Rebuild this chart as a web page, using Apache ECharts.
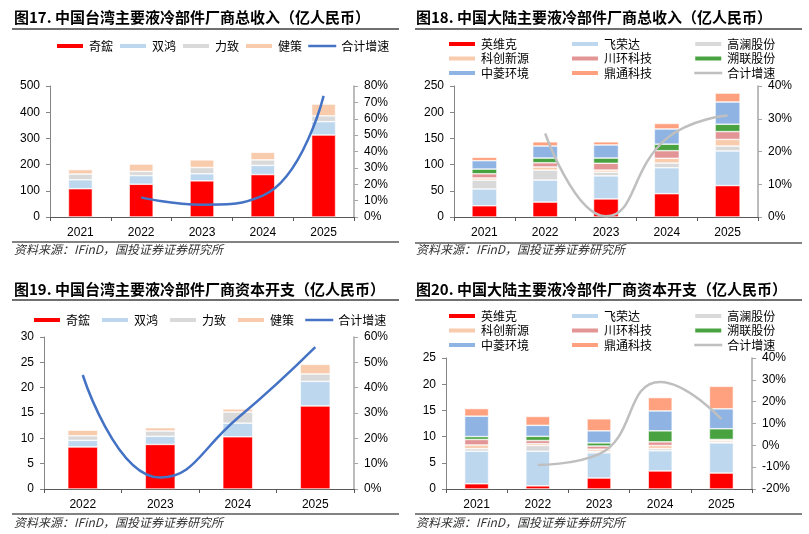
<!DOCTYPE html>
<html>
<head>
<meta charset="utf-8">
<script src="https://cdn.jsdelivr.net/npm/echarts@6/dist/echarts.min.js"></script>
<style>
  body { margin: 0; background: #fff; }
  .panel { position: absolute; }
</style>
</head>
<body>
<div id="c17" class="panel" style="left:0;top:0;width:405px;height:267px"></div>
<div id="c18" class="panel" style="left:405px;top:0;width:404px;height:267px"></div>
<div id="c19" class="panel" style="left:0;top:267px;width:405px;height:267px"></div>
<div id="c20" class="panel" style="left:405px;top:267px;width:404px;height:267px"></div>
<script>
// 年份
const years5 = ['2021', '2022', '2023', '2024', '2025']
const years4 = ['2022', '2023', '2024', '2025']

// 图17 中国台湾 总收入（亿人民币）
const twRevQihong = [108, 125, 138, 162, 313]
const twRevShuanghong = [34, 33, 27, 35, 51]
const twRevLizhi = [22, 16, 24, 21, 22]
const twRevJiance = [17, 28, 29, 29, 45]
const twRevGrowth = [null, 12, 7.5, 13, 74]

// 图18 中国大陆 总收入
const cnRevYwk = [21.5, 28.5, 34.5, 44.5, 60]
const cnRevFrd = [32, 42, 44, 49.5, 66]
const cnRevGl = [17, 19, 7, 9, 9.5]
const cnRevKcxy = [4, 6, 4, 9, 12.5]
const cnRevChkj = [8, 8, 13, 14.5, 15]
const cnRevSl = [9, 9, 10, 12.5, 14]
const cnRevZl = [16, 23, 25, 29, 42.5]
const cnRevDt = [6.5, 8, 6, 10.5, 17]
const cnRevGrowth = [null, 25.5, 0.2, 24, 31]

// 图19 中国台湾 资本开支
const twCapexQihong = [8.3, 8.8, 10.3, 16.4]
const twCapexShuanghong = [1.3, 1.6, 2.7, 4.85]
const twCapexLizhi = [0.9, 1.05, 2.2, 1.45]
const twCapexJiance = [1.1, 0.65, 0.6, 1.9]
const twCapexGrowth = [45, 4.5, 28, 56]

// 图20 中国大陆 资本开支
const cnCapexYwk = [1.0, 0.6, 2.1, 3.45, 3.05]
const cnCapexFrd = [6.2, 6.6, 4.8, 3.85, 5.75]
const cnCapexGl = [0.5, 1.1, 0.3, 0.4, 0.15]
const cnCapexKcxy = [0.7, 0.35, 0.4, 0.6, 0.35]
const cnCapexChkj = [1.05, 0.6, 0.6, 0.7, 0.15]
const cnCapexSl = [0.55, 0.8, 0.6, 2.1, 2.05]
const cnCapexZl = [3.9, 2.1, 2.3, 3.8, 3.8]
const cnCapexDt = [1.45, 1.7, 2.3, 2.55, 4.3]
const cnCapexGrowth = [null, -9, -4, 29, 12]

const SOURCE = '资料来源：IFinD，国投证券证券研究所'
const CJK = '"Noto Sans CJK SC", sans-serif'
const NUM = '"Liberation Sans", Arial, sans-serif'

const colors = {
  red: '#FF0000', ltBlue: '#BDD7EE', gray: '#D9D9D9', peach: '#F8CBAD',
  pink: '#E39494', green: '#47A23F', blue: '#8FB4E3', salmon: '#FFA17F',
  lineBlue: '#4472C4', lineGray: '#BFBFBF'
}

function barSeries(name, data, color, width) {
  return {
    name: name, type: 'bar', stack: 'total', barWidth: width, data: data,
    itemStyle: { color: color, borderColor: '#fff', borderWidth: 0.6 }
  }
}

function lineSeries(name, data, color) {
  return {
    name: name, type: 'line', yAxisIndex: 1, smooth: true, symbol: 'none',
    data: data, z: 5,
    lineStyle: { color: color, width: 2.5 },
    itemStyle: { color: color }
  }
}

// 柱子用方块图例，折线只画线，不要中间的圆点
function legendItems(names) {
  return names.map(n => n === '合计增速'
    ? { name: n, itemStyle: { opacity: 0 }, lineStyle: { width: 2.5 } }
    : { name: n, icon: 'rect' })
}

function buildOption(cfg) {
  const legendBase = {
    itemWidth: 28, itemHeight: 6, padding: 0,
    textStyle: { fontFamily: CJK, fontSize: 12, color: '#000' }
  }
  let legends = []
  if (cfg.legendCols) {
    cfg.legendCols.forEach((col, i) => {
      legends.push(Object.assign({}, legendBase, {
        orient: 'vertical', left: cfg.legendLeft[i], top: cfg.legendTop,
        itemGap: 2.5, data: legendItems(col)
      }))
    })
  } else {
    legends.push(Object.assign({}, legendBase, {
      left: cfg.legendLeft, top: cfg.legendTop, itemGap: cfg.legendGap,
      data: legendItems(cfg.legendData)
    }))
  }
  const axisLbl = { color: '#000', fontSize: 12, fontFamily: NUM, margin: 10 }
  return {
    animation: false,
    title: [
      { text: cfg.title, left: cfg.titleLeft, top: cfg.titleTop, padding: 0,
        textStyle: { fontFamily: CJK, fontSize: 15, fontWeight: 'bold', color: '#000' } },
      { text: SOURCE, left: cfg.titleLeft, top: cfg.sourceTop, padding: 0,
        textStyle: { fontFamily: CJK, fontSize: 12, fontStyle: 'italic', fontWeight: 'normal', color: '#333' } }
    ],
    graphic: [
      { type: 'line', shape: { x1: cfg.lineX[0], y1: cfg.topLineY, x2: cfg.lineX[1], y2: cfg.topLineY },
        style: { stroke: '#404040', lineWidth: 1.5 } },
      { type: 'line', shape: { x1: cfg.lineX[0], y1: cfg.bottomLineY, x2: cfg.lineX[1], y2: cfg.bottomLineY },
        style: { stroke: '#595959', lineWidth: 1.5 } }
    ],
    legend: legends,
    grid: cfg.grid,
    xAxis: {
      type: 'category', data: cfg.categories,
      axisLine: { lineStyle: { color: '#595959', width: 1 } },
      axisTick: { show: true, length: 4, lineStyle: { color: '#595959' } },
      axisLabel: axisLbl
    },
    yAxis: [
      { type: 'value', min: cfg.left[0], max: cfg.left[1], interval: cfg.left[2],
        splitLine: { show: false },
        axisLine: { show: true, lineStyle: { color: '#868686', width: 1 } },
        axisTick: { show: true, length: 4, lineStyle: { color: '#868686' } },
        axisLabel: axisLbl },
      { type: 'value', position: 'right', min: cfg.right[0], max: cfg.right[1], interval: cfg.right[2],
        splitLine: { show: false },
        axisLine: { show: true, lineStyle: { color: '#A6A6A6', width: 1.5 } },
        axisTick: { show: true, length: 4, lineStyle: { color: '#A6A6A6' } },
        axisLabel: Object.assign({}, axisLbl, { formatter: '{value}%' }) }
    ],
    series: cfg.series
  }
}

// 图17
const opt17 = buildOption({
  title: '图17. 中国台湾主要液冷部件厂商总收入（亿人民币）',
  titleLeft: 14, titleTop: 10, sourceTop: 243,
  lineX: [12, 399], topLineY: 29, bottomLineY: 242,
  legendLeft: 55, legendTop: 40, legendGap: 5,
  legendData: ['奇鋐', '双鸿', '力致', '健策', '合计增速'],
  grid: { left: 50, right: 51, top: 86, bottom: 50 },
  categories: years5,
  left: [0, 500, 100], right: [0, 80, 10],
  series: [
    barSeries('奇鋐', twRevQihong, colors.red, 24),
    barSeries('双鸿', twRevShuanghong, colors.ltBlue, 24),
    barSeries('力致', twRevLizhi, colors.gray, 24),
    barSeries('健策', twRevJiance, colors.peach, 24),
    lineSeries('合计增速', twRevGrowth, colors.lineBlue)
  ]
})

// 图18
const opt18 = buildOption({
  title: '图18. 中国大陆主要液冷部件厂商总收入（亿人民币）',
  titleLeft: 11, titleTop: 10, sourceTop: 243,
  lineX: [10, 397], topLineY: 29, bottomLineY: 243,
  legendLeft: [42, 165, 288], legendTop: 38,
  legendCols: [['英维克', '科创新源', '中菱环境'], ['飞荣达', '川环科技', '鼎通科技'], ['高澜股份', '溯联股份', '合计增速']],
  grid: { left: 49, right: 51, top: 86, bottom: 50 },
  categories: years5,
  left: [0, 250, 50], right: [0, 40, 10],
  series: [
    barSeries('英维克', cnRevYwk, colors.red, 25),
    barSeries('飞荣达', cnRevFrd, colors.ltBlue, 25),
    barSeries('高澜股份', cnRevGl, colors.gray, 25),
    barSeries('科创新源', cnRevKcxy, colors.peach, 25),
    barSeries('川环科技', cnRevChkj, colors.pink, 25),
    barSeries('溯联股份', cnRevSl, colors.green, 25),
    barSeries('中菱环境', cnRevZl, colors.blue, 25),
    barSeries('鼎通科技', cnRevDt, colors.salmon, 25),
    lineSeries('合计增速', cnRevGrowth, colors.lineGray)
  ]
})

// 图19
const opt19 = buildOption({
  title: '图19. 中国台湾主要液冷部件厂商资本开支（亿人民币）',
  titleLeft: 14, titleTop: 15, sourceTop: 249,
  lineX: [12, 399], topLineY: 33, bottomLineY: 247,
  legendLeft: 32, legendTop: 47, legendGap: 10,
  legendData: ['奇鋐', '双鸿', '力致', '健策', '合计增速'],
  grid: { left: 44, right: 51, top: 70, bottom: 45 },
  categories: years4,
  left: [0, 30, 5], right: [0, 60, 10],
  series: [
    barSeries('奇鋐', twCapexQihong, colors.red, 30),
    barSeries('双鸿', twCapexShuanghong, colors.ltBlue, 30),
    barSeries('力致', twCapexLizhi, colors.gray, 30),
    barSeries('健策', twCapexJiance, colors.peach, 30),
    lineSeries('合计增速', twCapexGrowth, colors.lineBlue)
  ]
})

// 图20
const opt20 = buildOption({
  title: '图20. 中国大陆主要液冷部件厂商资本开支（亿人民币）',
  titleLeft: 11, titleTop: 15, sourceTop: 249,
  lineX: [10, 397], topLineY: 33, bottomLineY: 247,
  legendLeft: [42, 165, 288], legendTop: 43,
  legendCols: [['英维克', '科创新源', '中菱环境'], ['飞荣达', '川环科技', '鼎通科技'], ['高澜股份', '溯联股份', '合计增速']],
  grid: { left: 41, right: 57, top: 91, bottom: 45 },
  categories: years5,
  left: [0, 25, 5], right: [-20, 40, 10],
  series: [
    barSeries('英维克', cnCapexYwk, colors.red, 24),
    barSeries('飞荣达', cnCapexFrd, colors.ltBlue, 24),
    barSeries('高澜股份', cnCapexGl, colors.gray, 24),
    barSeries('科创新源', cnCapexKcxy, colors.peach, 24),
    barSeries('川环科技', cnCapexChkj, colors.pink, 24),
    barSeries('溯联股份', cnCapexSl, colors.green, 24),
    barSeries('中菱环境', cnCapexZl, colors.blue, 24),
    barSeries('鼎通科技', cnCapexDt, colors.salmon, 24),
    lineSeries('合计增速', cnCapexGrowth, colors.lineGray)
  ]
})

echarts.init(document.getElementById('c17')).setOption(opt17)
echarts.init(document.getElementById('c18')).setOption(opt18)
echarts.init(document.getElementById('c19')).setOption(opt19)
echarts.init(document.getElementById('c20')).setOption(opt20)
</script>
</body>
</html>
